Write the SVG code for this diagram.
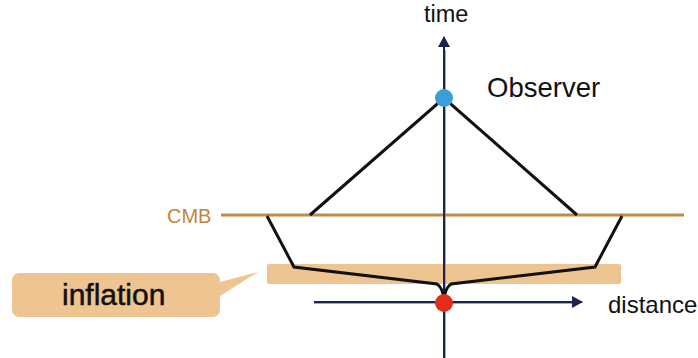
<svg xmlns="http://www.w3.org/2000/svg" width="698" height="358" viewBox="0 0 698 358">
<style>
text{font-family:"Liberation Sans",Arial,sans-serif;}
.axis{stroke:#1c2450;stroke-width:2;fill:none}
.axisr{stroke:#e06060;stroke-width:1;fill:none;opacity:.7}
.ray{stroke:#111;stroke-width:3;fill:none;stroke-linejoin:miter}
</style>
<defs>
<marker id="ah" markerWidth="12" markerHeight="12" refX="10" refY="6" orient="auto" markerUnits="userSpaceOnUse">
<path d="M0,0 L11,6 L0,12 Z" fill="#1c2450"/>
</marker>
</defs>
<rect width="698" height="358" fill="#fff"/>
<g id="inflation-band"><rect x="267" y="264" width="354" height="20" rx="2" fill="#eec591"/></g>
<g id="cmb-line">
<line x1="221" y1="215" x2="684" y2="215" stroke="#c08a44" stroke-width="3"/>
<text x="167" y="223" font-size="20" fill="#c0873a">CMB</text>
</g>
<g id="connectors">
<line class="axisr" x1="445.5" y1="50" x2="445.5" y2="358"/>
<line class="axis" x1="444" y1="358" x2="444" y2="37" marker-end="url(#ah)"/>
<line class="axisr" x1="314" y1="303.5" x2="572" y2="303.5"/>
<line class="axis" x1="314" y1="302" x2="582" y2="302" marker-end="url(#ah)"/>
<polyline class="ray" points="310,215 444,98 577,215"/>
<path class="ray" d="M267,216 L294,267 L437,284 Q443,288 444,300 Q445,288 451,284 L595,267 L622,216"/>
</g>
<g id="time-label"><text x="424" y="22" font-size="23.5" fill="#111">time</text></g>
<g id="observer">
<circle cx="444" cy="98" r="9" fill="#3a9fd6"/>
<text x="487" y="97" font-size="27.5" fill="#111">Observer</text>
</g>
<g id="origin"><circle cx="444" cy="303" r="9" fill="#e0301c"/></g>
<g id="distance-label"><text x="608" y="313" font-size="24" fill="#111">distance</text></g>
<g id="inflation-callout">
<path d="M20,273 H212 Q220,273 220,281 V282 L258,272 L220,296 V309 Q220,317 212,317 H20 Q12,317 12,309 V281 Q12,273 20,273 Z" fill="#eec591"/>
<text x="62" y="305" font-size="30" fill="#111" stroke="#111" stroke-width="0.5">inflation</text>
</g>
</svg>
